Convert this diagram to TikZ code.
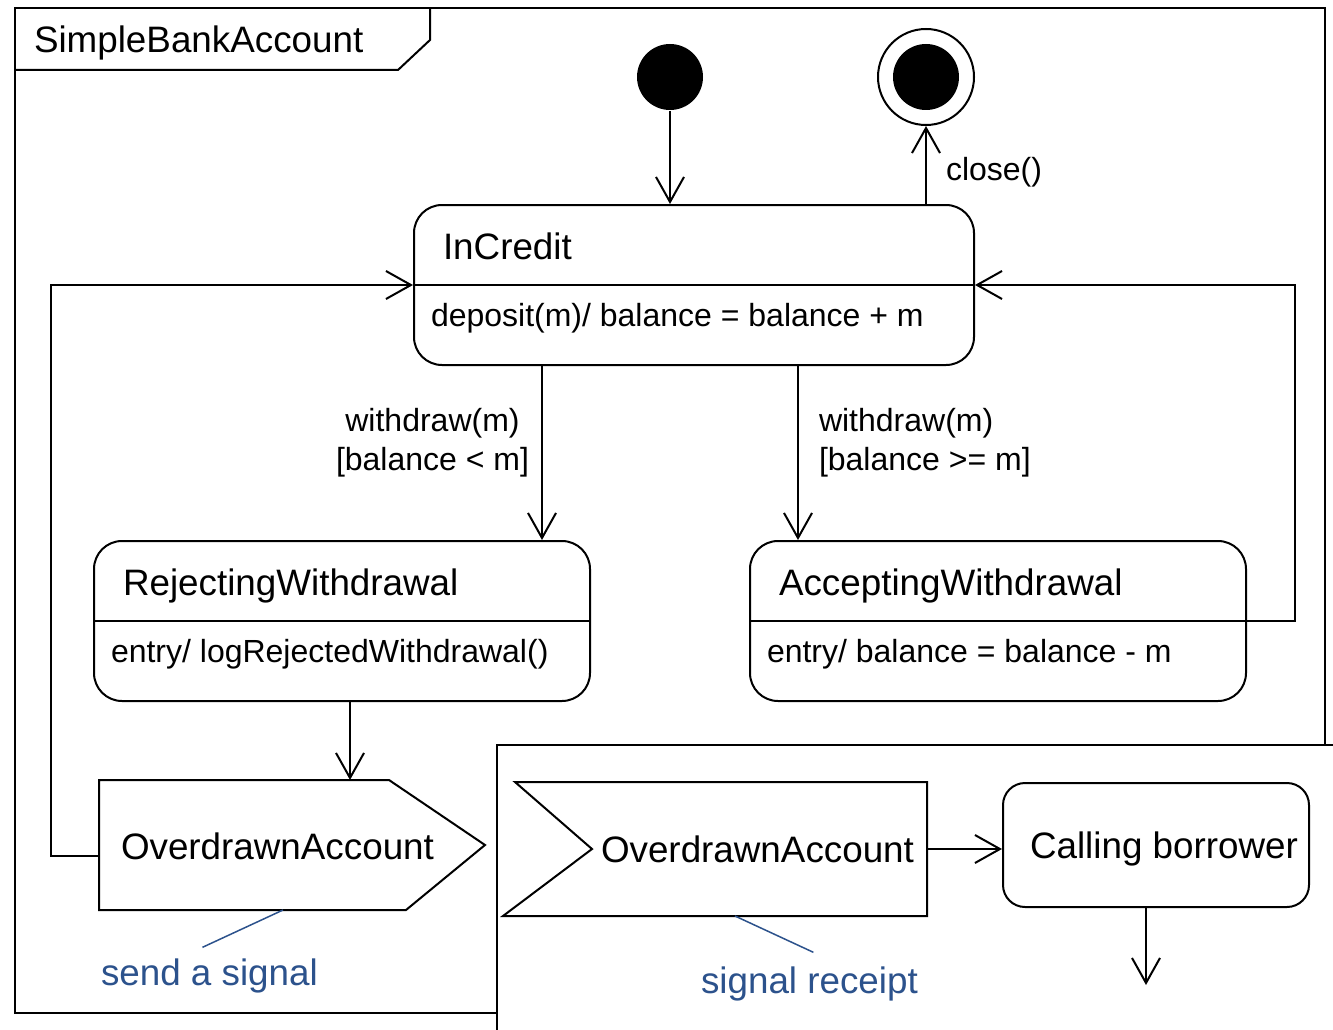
\documentclass[tikz,border=0pt]{standalone}
\usepackage{fontspec}
\setmainfont{Liberation Sans}
\usetikzlibrary{arrows.meta}
\definecolor{notecol}{HTML}{2C528C}
\tikzset{
  state/.style={draw, rounded corners=28pt, inner sep=0pt},
  sttitle/.style={anchor=base west, inner sep=0pt, font=\fontsize{36.8}{44}\selectfont},
  stbody/.style={anchor=base west, inner sep=0pt, font=\fontsize{32}{39}\selectfont},
  trans/.style={-{Straight Barb[length=25pt,width=28pt]}},
  notetext/.style={anchor=base west, inner sep=0pt, text=notecol, font=\fontsize{36.8}{44}\selectfont},
  noteline/.style={draw=notecol, line width=1.5pt},
}

\begin{document}
\begin{tikzpicture}[x=1pt, y=-1pt, line width=2pt]
  \useasboundingbox (0,0) rectangle (1333,1030);
  \clip (0,0) rectangle (1333,1030);
  % frame of the machine
  \draw (15,8) rectangle (1325,1013);
  \draw (430,8) -- (430,40) -- (398,70) -- (15,70);
  \node[sttitle] (frametitle) at (33,53) {SimpleBankAccount};

  % pseudo states
  \node[circle, fill, minimum size=66pt, inner sep=0pt] (init) at (670,77) {};
  \node[circle, draw, minimum size=96pt, inner sep=0pt] (final) at (926,77) {};
  \node[circle, fill, minimum size=66pt, inner sep=0pt] (finaldot) at (final) {};

  % states
  \node[state, minimum width=560pt, minimum height=160pt] (incredit) at (694,285) {};
  \draw (incredit.west) -- (incredit.east);
  \node[sttitle] (incredit-t) at (442,259) {InCredit};
  \node[stbody] (incredit-b) at (430,326) {deposit(m)/ balance = balance + m};

  \node[state, minimum width=496pt, minimum height=160pt] (rejecting) at (342,621) {};
  \draw (rejecting.west) -- (rejecting.east);
  \node[sttitle] (rejecting-t) at (122,595) {RejectingWithdrawal};
  \node[stbody] (rejecting-b) at (110,662) {entry/ logRejectedWithdrawal()};

  \node[state, minimum width=496pt, minimum height=160pt] (accepting) at (998,621) {};
  \draw (accepting.west) -- (accepting.east);
  \node[sttitle] (accepting-t) at (778,595) {AcceptingWithdrawal};
  \node[stbody] (accepting-b) at (766,662) {entry/ balance = balance - m};

  % send signal action
  \node[minimum width=384pt, minimum height=128pt, inner sep=0pt] (sendsig) at (292,845) {};
  \draw (sendsig.north west) -- ([xshift=-96pt]sendsig.north east) -- (sendsig.east)
    -- ([xshift=-79pt]sendsig.south east) -- (sendsig.south west) -- cycle;
  \node[sttitle, anchor=west] (sendsig-t) at (120,846) {OverdrawnAccount};

  % transitions
  \draw[trans] (init) -- (init |- incredit.north);
  \draw[trans] (final |- incredit.north) -- (final)
    node[stbody, anchor=west, pos=0.41, xshift=19pt] {close()};
  \draw[trans] ([xshift=-152pt]incredit.south) -- ([xshift=-152pt]incredit.south |- rejecting.north)
    node[stbody, anchor=east, align=center, pos=0.44, xshift=-12pt] {withdraw(m)\\{[}balance < m]};
  \draw[trans] ([xshift=104pt]incredit.south) -- ([xshift=104pt]incredit.south |- accepting.north)
    node[stbody, anchor=west, align=left, pos=0.44, xshift=20pt] {withdraw(m)\\{[}balance >= m]};
  \draw[trans] (accepting.east) -- ++(48,0) |- (incredit.east);
  \draw[trans] ([yshift=-11pt]sendsig.west) -- ++(-48,0) |- (incredit.west);
  \draw[trans] ([xshift=8pt]rejecting.south) -- ([xshift=8pt]rejecting.south |- sendsig.north);

  % note for the send action
  \node[notetext] (sendnote) at (100,985) {send a signal};
  \draw[noteline] ([xshift=-9pt]sendsig.south) -- ([shift={(-7pt,10pt)}]sendnote.north);

  % handler region
  \filldraw[fill=white] (497,745) rectangle (1345,1045);
  \node[minimum width=416pt, minimum height=132pt, inner sep=0pt] (accsig) at (718,849) {};
  \draw ([xshift=6pt]accsig.north west) -- (accsig.north east) -- (accsig.south east)
    -- ([xshift=-6pt]accsig.south west) -- ([xshift=83pt]accsig.west) -- cycle;
  \node[sttitle, anchor=west] (accsig-t) at (600,849) {OverdrawnAccount};
  \node[state, rounded corners=22pt, minimum width=306pt, minimum height=124pt, text depth=0pt,
    font=\fontsize{36.8}{44}\selectfont] (calling) at (1156,845) {\hspace*{16pt}Calling borrower};
  \draw[trans] (accsig.east) -- (accsig.east -| calling.west);
  \coordinate (callend) at (1146,985);
  \draw[trans] (calling.south -| callend) -- (callend);
  \node[notetext] (recvnote) at (700,993) {signal receipt};
  \draw[noteline] ([xshift=17pt]accsig.south) -- ([shift={(4pt,13pt)}]recvnote.north);
\end{tikzpicture}
\end{document}
